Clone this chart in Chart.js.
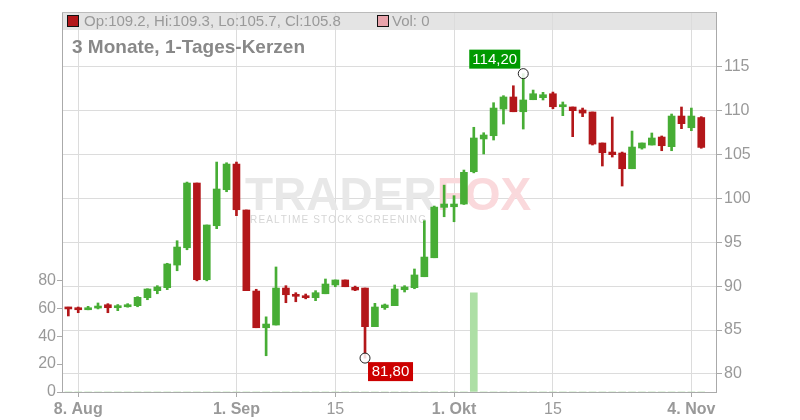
<!DOCTYPE html>
<html><head><meta charset="utf-8">
<script src="https://cdn.jsdelivr.net/npm/chart.js@4.4.1/dist/chart.umd.min.js"></script>
<style>html,body{margin:0;padding:0;background:#fff;}#wrap{width:800px;height:420px;}</style>
</head><body><div id="wrap"><canvas id="c" width="800" height="420"></canvas></div>
<script>
const dates = ['2025-08-07','2025-08-08','2025-08-11','2025-08-12','2025-08-13','2025-08-14','2025-08-15','2025-08-18','2025-08-19','2025-08-20','2025-08-21','2025-08-22','2025-08-25','2025-08-26','2025-08-27','2025-08-28','2025-08-29',
'2025-09-01','2025-09-02','2025-09-03','2025-09-04','2025-09-05','2025-09-08','2025-09-09','2025-09-10','2025-09-11','2025-09-12','2025-09-15','2025-09-16','2025-09-17','2025-09-18','2025-09-19','2025-09-22','2025-09-23','2025-09-24','2025-09-25','2025-09-26','2025-09-29','2025-09-30',
'2025-10-01','2025-10-02','2025-10-03','2025-10-06','2025-10-07','2025-10-08','2025-10-09','2025-10-10','2025-10-13','2025-10-14','2025-10-15','2025-10-16','2025-10-17','2025-10-20','2025-10-21','2025-10-22','2025-10-23','2025-10-24','2025-10-27','2025-10-28','2025-10-29','2025-10-30','2025-10-31',
'2025-11-03','2025-11-04','2025-11-05'];
const openP  = [87.5,87.54,87.31,87.5,87.88,87.54,87.65,87.77,88.68,89.48,89.82,92.4,94.37,101.74,90.73,96.88,100.98,103.9,98.67,89.44,85.26,85.57,89.78,89.02,88.9,88.68,89.13,90.13,90.7,89.86,89.78,85.38,87.54,87.77,89.59,89.82,91.07,93.23,98.97,99.04,99.35,103.03,106.76,107.13,110.17,111.54,109.86,111.23,111.46,111.91,110.43,110.4,110.06,109.83,106.3,105.27,105.16,103.37,105.73,106.07,106.98,105.88,109.37,108.04,109.2];
const highP  = [87.6,87.62,87.7,88.08,88.0,87.9,88.0,88.8,89.7,90.05,92.6,95.17,101.85,101.74,96.96,104.13,104.05,104.13,98.67,89.64,86.5,92.18,90.05,89.25,89.1,89.48,90.81,90.7,90.7,90.0,89.78,88.04,87.96,90.13,90.05,91.95,97.45,99.12,101.5,100.3,103.22,108.09,107.47,110.89,111.69,112.82,114.2,112.33,112.07,112.1,110.97,110.4,110.28,109.83,106.3,109.26,105.27,107.66,106.3,107.44,107.1,109.6,110.4,110.28,109.3];
const lowP   = [86.6,86.97,87.3,87.4,86.97,87.2,87.6,87.65,88.45,89.13,89.6,91.75,94.14,90.6,90.6,96.54,100.75,98.02,89.48,85.26,82.07,85.57,88.11,88.22,88.55,88.34,89.13,89.93,89.93,89.48,81.8,85.38,87.35,87.77,89.33,89.7,91.07,93.23,97.9,97.33,99.3,102.9,105.05,106.64,108.46,109.86,107.89,111.23,111.2,110.2,109.41,107.02,109.3,106.07,103.68,104.7,101.4,103.37,105.6,106.07,105.42,105.42,107.93,107.7,105.7];
const closeP = [87.4,87.31,87.5,87.73,87.54,87.77,87.88,88.72,89.67,89.9,92.52,94.45,101.74,90.73,96.96,101.06,103.9,98.7,89.48,85.26,85.68,89.78,89.02,88.84,88.68,89.25,90.24,90.7,89.93,89.56,85.38,87.62,87.85,89.67,89.9,91.27,93.31,99.0,99.35,99.35,102.96,106.87,107.21,110.28,111.54,109.86,111.2,111.91,111.8,110.43,110.66,109.98,109.71,106.18,105.19,104.97,103.37,105.84,106.3,106.87,105.99,109.37,108.5,109.37,105.8];
const volume = [0,0,0,0,0,0,0,0,0,0,0,0,0,0,0,0,0,0,0,0,0,0,0,0,0,0,0,0,0,0,0,0,0,0,0,0,0,0,0,0,0,71,0,0,0,0,0,0,0,0,0,0,0,0,0,0,0,0,0,0,0,0,0,0,0];
const xTickIdx    = [1,17,27,39,49,63];
const xTickLabels = ['8. Aug','1. Sep','15','1. Okt','15','4. Nov'];
const xTickBold   = [true,true,false,true,false,true];
const priceTicks  = [80,85,90,95,100,105,110,115];
const volTicks    = [0,20,40,60,80];
const chartTitle  = '3 Monate, 1-Tages-Kerzen';
const highIdx = 46, lowIdx = 30;

const GREEN = '#47ad35', RED = '#b3171a', FONT = "'Liberation Sans', Arial, sans-serif";
const idx = dates.map((d, i) => i);
const candleColors = idx.map(i => closeP[i] >= openP[i] ? GREEN : RED);
const last = dates.length - 1;
const fmt = v => v.toFixed(2).replace('.', ',');

const decor = {
  id: 'decor',
  beforeDraw(chart) {
    const { ctx, chartArea: a } = chart;
    ctx.save();
    ctx.fillStyle = '#e4e4e4';
    ctx.fillRect(a.left, a.top, a.right - a.left, 18);
    ctx.restore();
  },
  beforeDatasetsDraw(chart) {
    const { ctx } = chart;
    ctx.save();
    ctx.font = 'bold 46px ' + FONT;
    ctx.textBaseline = 'alphabetic';
    ctx.fillStyle = '#e8e8e8';
    ctx.fillText('TRADER', 245, 210);
    const w = ctx.measureText('TRADER').width;
    ctx.fillStyle = '#fad9dc';
    ctx.fillText('FOX', 245 + w, 210);
    ctx.font = '10px ' + FONT;
    ctx.fillStyle = '#d6d6d6';
    const tag = 'REALTIME STOCK SCREENING';
    let tw = 0; for (const ch of tag) tw += ctx.measureText(ch).width;
    const sp = (176 - tw) / (tag.length - 1);
    let x = 250;
    for (const ch of tag) { ctx.fillText(ch, x, 223); x += ctx.measureText(ch).width + sp; }
    ctx.restore();
  },
  afterDatasetsDraw(chart) {
    const { ctx, scales } = chart;
    const xs = scales.x, ys = scales.y;
    ctx.save();
    ctx.font = '15px ' + FONT;
    ctx.textAlign = 'center';
    ctx.textBaseline = 'middle';
    // high
    let px = xs.getPixelForValue(highIdx), py = ys.getPixelForValue(highP[highIdx]);
    ctx.fillStyle = '#009a00';
    ctx.fillRect(px - 54, py - 24, 51, 19);
    ctx.fillStyle = '#fff';
    ctx.fillText(fmt(highP[highIdx]), px - 28.5, py - 14);
    ctx.beginPath(); ctx.arc(px, py, 5, 0, Math.PI * 2);
    ctx.fillStyle = 'rgba(255,255,255,0.85)'; ctx.fill();
    ctx.strokeStyle = '#222'; ctx.lineWidth = 1; ctx.stroke();
    // low
    px = xs.getPixelForValue(lowIdx); py = ys.getPixelForValue(lowP[lowIdx]);
    ctx.fillStyle = '#cc0000';
    ctx.fillRect(px + 3, py + 4, 45, 19);
    ctx.fillStyle = '#fff';
    ctx.fillText(fmt(lowP[lowIdx]), px + 25.5, py + 14);
    ctx.beginPath(); ctx.arc(px, py, 5, 0, Math.PI * 2);
    ctx.fillStyle = 'rgba(255,255,255,0.85)'; ctx.fill();
    ctx.strokeStyle = '#222'; ctx.stroke();
    ctx.restore();
  },
  afterDraw(chart) {
    const { ctx, chartArea: a } = chart;
    ctx.save();
    ctx.strokeStyle = '#bbb'; ctx.lineWidth = 1;
    ctx.beginPath(); ctx.moveTo(a.left, a.top + 0.5); ctx.lineTo(a.right, a.top + 0.5); ctx.stroke();
    // header legend
    ctx.fillStyle = candleColors[last];
    ctx.fillRect(68, 16, 10, 10);
    ctx.strokeStyle = '#111'; ctx.strokeRect(67.5, 15.5, 11, 11);
    ctx.font = '15px ' + FONT;
    ctx.fillStyle = '#999';
    ctx.textBaseline = 'middle';
    ctx.fillText('Op:' + openP[last].toFixed(1) + ', Hi:' + highP[last].toFixed(1) + ', Lo:' + lowP[last].toFixed(1) + ', Cl:' + closeP[last].toFixed(1), 84, 22);
    ctx.fillStyle = '#e8a3ab';
    ctx.fillRect(378, 16, 10, 10);
    ctx.strokeRect(377.5, 15.5, 11, 11);
    ctx.fillStyle = '#999';
    ctx.fillText('Vol: ' + volume[last], 392, 22);
    ctx.font = 'bold 19px ' + FONT;
    ctx.fillStyle = '#888';
    ctx.fillText(chartTitle, 72, 48);
    ctx.restore();
  }
};

new Chart(document.getElementById('c'), {
  type: 'bar',
  data: {
    datasets: [
      { label: 'Body', data: idx.map(i => ({ x: i, y: [openP[i], closeP[i]] })), backgroundColor: candleColors,
        barThickness: 7, minBarLength: 2, grouped: false, yAxisID: 'y', order: 1 },
      { label: 'Wick', data: idx.map(i => ({ x: i, y: [lowP[i], highP[i]] })), backgroundColor: candleColors,
        barThickness: 2, minBarLength: 1, grouped: false, yAxisID: 'y', order: 2 },
      { label: 'Vol', data: idx.map(i => ({ x: i, y: volume[i] })), backgroundColor: '#addfa5',
        barThickness: 7, grouped: false, yAxisID: 'yVol', order: 3 }
    ]
  },
  options: {
    responsive: false, animation: false, devicePixelRatio: 1,
    layout: { padding: { top: 12, left: 0, right: 0, bottom: 0 } },
    plugins: { legend: { display: false }, tooltip: { enabled: false }, title: { display: false } },
    scales: {
      x: {
        type: 'linear', min: -0.64, max: 65.49, offset: false,
        grid: { color: '#dcdcdc', offset: false, tickLength: 5, tickColor: '#aaa' },
        border: { color: '#aaa' },
        afterBuildTicks: s => { s.ticks = xTickIdx.map(v => ({ value: v })); },
        afterFit: s => { s.height = 28; },
        ticks: {
          autoSkip: false, maxRotation: 0, color: '#999', padding: 3,
          callback: v => { const k = xTickIdx.indexOf(v); return k >= 0 ? xTickLabels[k] : ''; },
          font: c => ({ family: FONT, size: 16, weight: xTickBold[c.index] ? 'bold' : 'normal' })
        }
      },
      y: {
        position: 'right', min: 77.94, max: 121.22,
        grid: { color: '#dcdcdc', tickLength: 6, tickColor: '#aaa' },
        border: { color: '#aaa' },
        afterBuildTicks: s => { s.ticks = priceTicks.map(v => ({ value: v })); },
        afterFit: s => { s.width = 84; },
        ticks: { color: '#999', padding: 2, font: { family: FONT, size: 16 } }
      },
      yVol: {
        position: 'left', min: 0, max: 272,
        grid: { drawOnChartArea: false, tickLength: 5, tickColor: '#aaa' },
        border: { color: '#aaa' },
        afterBuildTicks: s => { s.ticks = volTicks.map(v => ({ value: v })); },
        afterFit: s => { s.width = 62; },
        ticks: { color: '#999', padding: 1, font: { family: FONT, size: 16 } }
      }
    }
  },
  plugins: [decor]
});
</script>
</body></html>
